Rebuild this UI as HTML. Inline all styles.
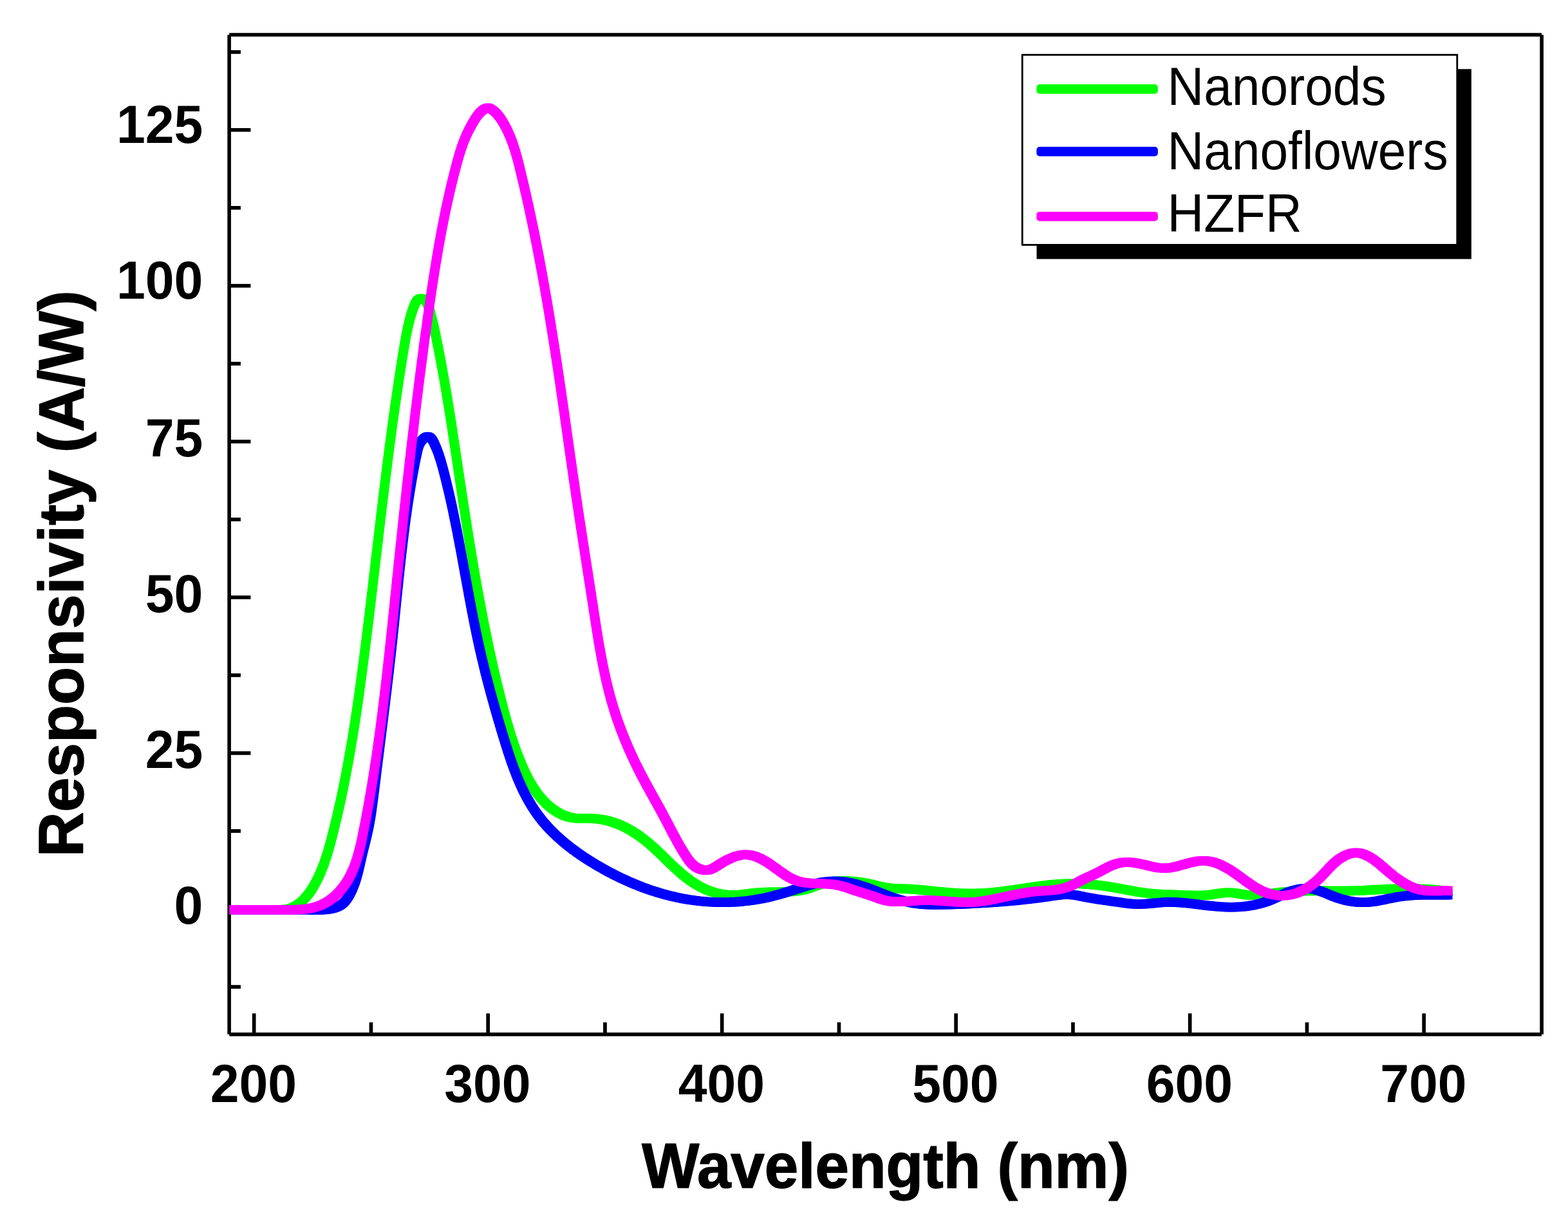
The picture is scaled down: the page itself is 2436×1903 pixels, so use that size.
<!DOCTYPE html>
<html lang="en"><head><meta charset="utf-8"><title>Responsivity vs Wavelength</title>
<style>html,body{margin:0;padding:0;background:#fff}body{width:2436px;height:1903px;overflow:hidden}svg{display:block}text{font-family:"Liberation Sans",Arial,Helvetica,sans-serif;fill:#000}.b{font-weight:bold}</style></head><body>
<svg width="2436" height="1903" viewBox="0 0 2436 1903">
<rect x="0" y="0" width="2436" height="1903" fill="#fff"/>
<g fill="#000"><rect x="353.3" y="54.2" width="5.6" height="1552.5"/><rect x="2392.3" y="54.2" width="5.7" height="1552.5"/><rect x="356.2" y="51.2" width="2038.8" height="5.6"/><rect x="356.2" y="1604.0" width="2038.8" height="5.7"/><rect x="391.8" y="1574.3" width="5.7" height="31.7"/><rect x="573.6" y="1588.2" width="5.7" height="17.8"/><rect x="755.3" y="1574.3" width="5.7" height="31.7"/><rect x="937.1" y="1588.2" width="5.7" height="17.8"/><rect x="1118.8" y="1574.3" width="5.7" height="31.7"/><rect x="1300.6" y="1588.2" width="5.7" height="17.8"/><rect x="1482.3" y="1574.3" width="5.7" height="31.7"/><rect x="1664.1" y="1588.2" width="5.7" height="17.8"/><rect x="1845.8" y="1574.3" width="5.7" height="31.7"/><rect x="2027.6" y="1588.2" width="5.7" height="17.8"/><rect x="2209.3" y="1574.3" width="5.7" height="31.7"/><rect x="356" y="1530.2" width="17.9" height="5.7"/><rect x="356" y="1409.2" width="33.4" height="5.7"/><rect x="356" y="1288.1" width="17.9" height="5.7"/><rect x="356" y="1167.1" width="33.4" height="5.7"/><rect x="356" y="1046.1" width="17.9" height="5.7"/><rect x="356" y="925.1" width="33.4" height="5.7"/><rect x="356" y="804.1" width="17.9" height="5.7"/><rect x="356" y="683.1" width="33.4" height="5.7"/><rect x="356" y="562.1" width="17.9" height="5.7"/><rect x="356" y="441.1" width="33.4" height="5.7"/><rect x="356" y="320.0" width="17.9" height="5.7"/><rect x="356" y="199.0" width="33.4" height="5.7"/><rect x="356" y="78.0" width="17.9" height="5.7"/></g>
<defs><path id="cg" d="M358.7,1413.3 L361.7,1413.3 L364.7,1413.3 L367.7,1413.3 L370.7,1413.3 L373.7,1413.3 L376.7,1413.3 L379.7,1413.3 L382.7,1413.3 L385.7,1413.3 L388.7,1413.3 L391.7,1413.3 L394.7,1413.3 L397.7,1413.3 L400.7,1413.3 L403.7,1413.3 L406.7,1413.3 L409.7,1413.3 L412.7,1413.3 L415.7,1413.3 L418.7,1413.3 L421.7,1413.3 L424.7,1413.3 L427.7,1413.3 L430.7,1413.3 L433.7,1413.3 L436.7,1413.2 L439.7,1413.1 L442.6,1412.8 L445.6,1412.5 L448.5,1411.9 L451.3,1411.1 L454.1,1410.1 L456.8,1408.8 L459.4,1407.3 L462.0,1405.7 L464.5,1403.9 L466.9,1402.0 L469.2,1399.9 L471.4,1397.8 L473.5,1395.7 L475.5,1393.4 L477.4,1391.1 L479.3,1388.8 L481.1,1386.3 L482.8,1383.9 L484.4,1381.4 L486.0,1378.8 L487.6,1376.3 L489.0,1373.7 L490.5,1371.0 L491.8,1368.4 L493.2,1365.7 L494.5,1363.0 L495.7,1360.3 L497.0,1357.6 L498.2,1354.9 L499.3,1352.1 L500.4,1349.4 L501.5,1346.6 L502.6,1343.8 L503.6,1341.0 L504.6,1338.2 L505.5,1335.3 L506.5,1332.5 L507.4,1329.6 L508.3,1326.8 L509.2,1323.9 L510.0,1321.0 L510.9,1318.1 L511.7,1315.3 L512.5,1312.4 L513.3,1309.5 L514.1,1306.6 L514.8,1303.7 L515.6,1300.7 L516.3,1297.8 L517.1,1294.9 L517.8,1292.0 L518.6,1289.1 L519.3,1286.2 L520.0,1283.2 L520.7,1280.3 L521.4,1277.4 L522.1,1274.5 L522.8,1271.6 L523.5,1268.6 L524.2,1265.7 L524.9,1262.8 L525.5,1259.9 L526.2,1256.9 L526.9,1254.0 L527.5,1251.1 L528.2,1248.1 L528.8,1245.2 L529.4,1242.3 L530.1,1239.3 L530.7,1236.4 L531.3,1233.5 L531.9,1230.5 L532.6,1227.6 L533.2,1224.7 L533.8,1221.7 L534.4,1218.8 L534.9,1215.8 L535.5,1212.9 L536.1,1210.0 L536.7,1207.0 L537.3,1204.1 L537.8,1201.1 L538.4,1198.2 L538.9,1195.2 L539.5,1192.3 L540.0,1189.3 L540.6,1186.4 L541.1,1183.4 L541.7,1180.5 L542.2,1177.5 L542.7,1174.6 L543.2,1171.6 L543.8,1168.7 L544.3,1165.7 L544.8,1162.8 L545.3,1159.8 L545.8,1156.9 L546.3,1153.9 L546.8,1150.9 L547.3,1148.0 L547.8,1145.0 L548.3,1142.1 L548.7,1139.1 L549.2,1136.1 L549.7,1133.2 L550.2,1130.2 L550.6,1127.3 L551.1,1124.3 L551.5,1121.3 L552.0,1118.4 L552.5,1115.4 L552.9,1112.4 L553.3,1109.5 L553.8,1106.5 L554.2,1103.5 L554.7,1100.6 L555.1,1097.6 L555.5,1094.6 L556.0,1091.7 L556.4,1088.7 L556.8,1085.7 L557.2,1082.8 L557.7,1079.8 L558.1,1076.8 L558.5,1073.9 L558.9,1070.9 L559.3,1067.9 L559.7,1064.9 L560.1,1062.0 L560.5,1059.0 L560.9,1056.0 L561.3,1053.1 L561.7,1050.1 L562.1,1047.1 L562.5,1044.1 L562.9,1041.2 L563.3,1038.2 L563.7,1035.2 L564.1,1032.2 L564.5,1029.3 L564.9,1026.3 L565.2,1023.3 L565.6,1020.3 L566.0,1017.4 L566.4,1014.4 L566.8,1011.4 L567.1,1008.4 L567.5,1005.5 L567.9,1002.5 L568.3,999.5 L568.6,996.5 L569.0,993.6 L569.4,990.6 L569.7,987.6 L570.1,984.6 L570.5,981.7 L570.8,978.7 L571.2,975.7 L571.6,972.7 L571.9,969.7 L572.3,966.8 L572.6,963.8 L573.0,960.8 L573.4,957.8 L573.7,954.9 L574.1,951.9 L574.4,948.9 L574.8,945.9 L575.2,942.9 L575.5,940.0 L575.9,937.0 L576.2,934.0 L576.6,931.0 L576.9,928.1 L577.3,925.1 L577.6,922.1 L578.0,919.1 L578.3,916.1 L578.7,913.2 L579.0,910.2 L579.4,907.2 L579.8,904.2 L580.1,901.3 L580.5,898.3 L580.8,895.3 L581.2,892.3 L581.5,889.3 L581.9,886.4 L582.2,883.4 L582.5,880.4 L582.9,877.4 L583.2,874.5 L583.6,871.5 L583.9,868.5 L584.3,865.5 L584.6,862.5 L585.0,859.6 L585.3,856.6 L585.7,853.6 L586.0,850.6 L586.4,847.6 L586.7,844.7 L587.1,841.7 L587.4,838.7 L587.8,835.7 L588.1,832.8 L588.5,829.8 L588.8,826.8 L589.2,823.8 L589.5,820.8 L589.9,817.9 L590.2,814.9 L590.6,811.9 L591.0,808.9 L591.3,806.0 L591.7,803.0 L592.0,800.0 L592.4,797.0 L592.7,794.0 L593.1,791.1 L593.4,788.1 L593.8,785.1 L594.2,782.1 L594.5,779.2 L594.9,776.2 L595.2,773.2 L595.6,770.2 L596.0,767.2 L596.3,764.3 L596.7,761.3 L597.0,758.3 L597.4,755.3 L597.8,752.4 L598.1,749.4 L598.5,746.4 L598.9,743.4 L599.2,740.4 L599.6,737.5 L600.0,734.5 L600.4,731.5 L600.7,728.5 L601.1,725.6 L601.5,722.6 L601.9,719.6 L602.2,716.6 L602.6,713.7 L603.0,710.7 L603.4,707.7 L603.8,704.7 L604.2,701.8 L604.5,698.8 L604.9,695.8 L605.3,692.8 L605.7,689.9 L606.1,686.9 L606.5,683.9 L606.9,680.9 L607.3,678.0 L607.7,675.0 L608.1,672.0 L608.5,669.0 L608.9,666.1 L609.3,663.1 L609.7,660.1 L610.1,657.1 L610.5,654.2 L610.9,651.2 L611.3,648.2 L611.7,645.2 L612.1,642.3 L612.6,639.3 L613.0,636.3 L613.4,633.4 L613.8,630.4 L614.2,627.4 L614.7,624.4 L615.1,621.5 L615.5,618.5 L616.0,615.5 L616.4,612.5 L616.8,609.6 L617.3,606.6 L617.7,603.6 L618.2,600.7 L618.6,597.7 L619.0,594.7 L619.5,591.8 L619.9,588.8 L620.4,585.8 L620.9,582.8 L621.3,579.9 L621.8,576.9 L622.2,573.9 L622.7,571.0 L623.2,568.0 L623.6,565.0 L624.1,562.1 L624.6,559.1 L625.0,556.1 L625.5,553.2 L626.0,550.2 L626.5,547.2 L627.0,544.3 L627.5,541.3 L628.0,538.3 L628.5,535.4 L629.0,532.4 L629.5,529.4 L630.0,526.5 L630.6,523.5 L631.1,520.6 L631.7,517.7 L632.3,514.8 L632.9,511.8 L633.5,508.9 L634.2,506.0 L634.9,503.2 L635.6,500.3 L636.3,497.4 L637.1,494.6 L637.8,491.8 L638.7,488.9 L639.5,486.1 L640.5,483.3 L641.4,480.4 L642.5,477.5 L643.7,474.5 L645.0,471.5 L646.6,468.7 L648.4,466.4 L650.7,464.8 L653.4,463.9 L656.1,464.0 L658.7,465.0 L661.0,466.9 L662.8,469.4 L664.2,472.3 L665.3,475.4 L666.3,478.3 L667.2,481.2 L668.0,484.1 L668.8,486.9 L669.6,489.8 L670.4,492.7 L671.1,495.6 L671.8,498.4 L672.5,501.3 L673.2,504.2 L673.9,507.1 L674.6,510.1 L675.2,513.0 L675.9,515.9 L676.5,518.8 L677.1,521.8 L677.7,524.7 L678.3,527.6 L678.9,530.6 L679.5,533.5 L680.1,536.5 L680.7,539.4 L681.3,542.3 L681.8,545.3 L682.4,548.2 L683.0,551.2 L683.5,554.1 L684.1,557.1 L684.6,560.0 L685.2,562.9 L685.7,565.9 L686.3,568.8 L686.8,571.8 L687.4,574.7 L687.9,577.7 L688.4,580.6 L688.9,583.6 L689.5,586.5 L690.0,589.5 L690.5,592.5 L691.0,595.4 L691.5,598.4 L692.0,601.3 L692.5,604.3 L693.0,607.2 L693.5,610.2 L694.0,613.1 L694.5,616.1 L695.0,619.1 L695.5,622.0 L695.9,625.0 L696.4,627.9 L696.9,630.9 L697.4,633.9 L697.8,636.8 L698.3,639.8 L698.8,642.7 L699.3,645.7 L699.7,648.7 L700.2,651.6 L700.6,654.6 L701.1,657.6 L701.6,660.5 L702.0,663.5 L702.5,666.4 L702.9,669.4 L703.4,672.4 L703.8,675.3 L704.3,678.3 L704.7,681.3 L705.2,684.2 L705.6,687.2 L706.1,690.2 L706.5,693.1 L707.0,696.1 L707.4,699.1 L707.9,702.0 L708.3,705.0 L708.8,708.0 L709.2,710.9 L709.7,713.9 L710.1,716.9 L710.5,719.9 L711.0,722.8 L711.4,725.8 L711.9,728.8 L712.3,731.7 L712.8,734.7 L713.2,737.7 L713.7,740.6 L714.1,743.6 L714.5,746.6 L715.0,749.5 L715.4,752.5 L715.9,755.5 L716.3,758.4 L716.8,761.4 L717.2,764.4 L717.7,767.3 L718.1,770.3 L718.6,773.3 L719.0,776.3 L719.5,779.2 L719.9,782.2 L720.4,785.2 L720.9,788.1 L721.3,791.1 L721.8,794.1 L722.2,797.0 L722.7,800.0 L723.1,803.0 L723.6,805.9 L724.1,808.9 L724.5,811.9 L725.0,814.8 L725.5,817.8 L725.9,820.8 L726.4,823.7 L726.9,826.7 L727.4,829.7 L727.8,832.6 L728.3,835.6 L728.8,838.5 L729.3,841.5 L729.7,844.5 L730.2,847.4 L730.7,850.4 L731.2,853.4 L731.7,856.3 L732.2,859.3 L732.7,862.2 L733.1,865.2 L733.6,868.2 L734.1,871.1 L734.6,874.1 L735.1,877.0 L735.6,880.0 L736.1,883.0 L736.6,885.9 L737.2,888.9 L737.7,891.8 L738.2,894.8 L738.7,897.7 L739.2,900.7 L739.7,903.7 L740.3,906.6 L740.8,909.6 L741.3,912.5 L741.8,915.5 L742.4,918.4 L742.9,921.4 L743.4,924.3 L744.0,927.3 L744.5,930.2 L745.1,933.2 L745.6,936.1 L746.2,939.1 L746.7,942.0 L747.3,945.0 L747.8,947.9 L748.4,950.9 L749.0,953.8 L749.5,956.8 L750.1,959.7 L750.7,962.7 L751.3,965.6 L751.8,968.5 L752.4,971.5 L753.0,974.4 L753.6,977.4 L754.2,980.3 L754.8,983.2 L755.4,986.2 L756.0,989.1 L756.6,992.1 L757.2,995.0 L757.8,997.9 L758.4,1000.9 L759.0,1003.8 L759.7,1006.7 L760.3,1009.7 L760.9,1012.6 L761.6,1015.5 L762.2,1018.4 L762.8,1021.4 L763.5,1024.3 L764.1,1027.2 L764.8,1030.2 L765.4,1033.1 L766.1,1036.0 L766.8,1038.9 L767.4,1041.9 L768.1,1044.8 L768.8,1047.7 L769.5,1050.6 L770.2,1053.5 L770.8,1056.4 L771.5,1059.4 L772.2,1062.3 L772.9,1065.2 L773.6,1068.1 L774.4,1071.0 L775.1,1073.9 L775.8,1076.8 L776.5,1079.8 L777.2,1082.7 L778.0,1085.6 L778.7,1088.5 L779.5,1091.4 L780.2,1094.3 L780.9,1097.2 L781.7,1100.1 L782.5,1103.0 L783.2,1105.9 L784.0,1108.8 L784.8,1111.7 L785.6,1114.6 L786.4,1117.5 L787.2,1120.4 L788.0,1123.2 L788.8,1126.1 L789.7,1129.0 L790.5,1131.9 L791.4,1134.7 L792.2,1137.6 L793.1,1140.5 L794.0,1143.3 L794.9,1146.2 L795.9,1149.0 L796.8,1151.9 L797.7,1154.7 L798.7,1157.6 L799.7,1160.4 L800.7,1163.2 L801.7,1166.0 L802.7,1168.9 L803.8,1171.7 L804.9,1174.5 L806.0,1177.3 L807.1,1180.1 L808.2,1182.8 L809.4,1185.6 L810.5,1188.4 L811.7,1191.1 L812.9,1193.9 L814.2,1196.6 L815.4,1199.4 L816.7,1202.1 L818.1,1204.8 L819.4,1207.5 L820.8,1210.1 L822.2,1212.8 L823.7,1215.4 L825.2,1218.0 L826.7,1220.6 L828.3,1223.1 L829.9,1225.6 L831.6,1228.1 L833.3,1230.6 L835.0,1233.0 L836.8,1235.3 L838.7,1237.7 L840.6,1240.0 L842.6,1242.2 L844.6,1244.4 L846.7,1246.5 L848.9,1248.6 L851.1,1250.7 L853.4,1252.6 L855.7,1254.6 L858.1,1256.4 L860.6,1258.2 L863.1,1259.9 L865.7,1261.5 L868.3,1263.0 L871.0,1264.4 L873.7,1265.7 L876.4,1266.8 L879.2,1267.9 L882.1,1268.8 L884.9,1269.5 L887.8,1270.2 L890.8,1270.6 L893.7,1271.0 L896.7,1271.2 L899.7,1271.3 L902.7,1271.3 L905.7,1271.3 L908.8,1271.2 L911.8,1271.2 L914.8,1271.3 L917.8,1271.3 L920.8,1271.5 L923.8,1271.7 L926.8,1272.0 L929.8,1272.4 L932.7,1272.8 L935.7,1273.3 L938.6,1273.9 L941.5,1274.5 L944.4,1275.2 L947.3,1275.9 L950.2,1276.8 L953.0,1277.7 L955.8,1278.6 L958.6,1279.7 L961.3,1280.8 L964.1,1281.9 L966.8,1283.1 L969.5,1284.4 L972.2,1285.7 L974.8,1287.1 L977.4,1288.6 L980.0,1290.0 L982.6,1291.6 L985.1,1293.2 L987.7,1294.8 L990.2,1296.4 L992.6,1298.2 L995.1,1299.9 L997.5,1301.7 L999.9,1303.5 L1002.3,1305.4 L1004.7,1307.3 L1007.0,1309.2 L1009.3,1311.2 L1011.6,1313.2 L1013.9,1315.2 L1016.1,1317.2 L1018.4,1319.3 L1020.6,1321.3 L1022.8,1323.4 L1025.0,1325.5 L1027.2,1327.6 L1029.4,1329.7 L1031.5,1331.8 L1033.7,1334.0 L1035.9,1336.1 L1038.1,1338.2 L1040.2,1340.3 L1042.4,1342.4 L1044.6,1344.5 L1046.8,1346.5 L1049.0,1348.6 L1051.2,1350.6 L1053.4,1352.6 L1055.7,1354.6 L1057.9,1356.6 L1060.2,1358.5 L1062.5,1360.4 L1064.8,1362.3 L1067.2,1364.1 L1069.6,1365.9 L1072.0,1367.7 L1074.4,1369.4 L1076.9,1371.0 L1079.4,1372.6 L1081.9,1374.2 L1084.5,1375.7 L1087.1,1377.2 L1089.8,1378.5 L1092.4,1379.9 L1095.1,1381.1 L1097.9,1382.3 L1100.7,1383.4 L1103.5,1384.4 L1106.3,1385.4 L1109.2,1386.3 L1112.1,1387.1 L1115.0,1387.8 L1117.9,1388.4 L1120.9,1389.0 L1123.9,1389.4 L1126.9,1389.8 L1129.9,1390.1 L1132.9,1390.3 L1135.9,1390.4 L1139.0,1390.4 L1142.0,1390.4 L1145.0,1390.3 L1148.0,1390.1 L1151.0,1389.9 L1154.0,1389.5 L1157.0,1389.2 L1159.9,1388.8 L1162.9,1388.4 L1165.9,1388.0 L1168.8,1387.6 L1171.8,1387.2 L1174.7,1386.9 L1177.7,1386.7 L1180.7,1386.5 L1183.7,1386.3 L1186.6,1386.2 L1189.6,1386.1 L1192.6,1386.0 L1195.6,1385.9 L1198.7,1385.9 L1201.7,1385.9 L1204.7,1385.8 L1207.7,1385.8 L1210.7,1385.8 L1213.7,1385.7 L1216.7,1385.6 L1219.7,1385.6 L1222.7,1385.4 L1225.7,1385.3 L1228.7,1385.1 L1231.6,1384.8 L1234.6,1384.5 L1237.6,1384.2 L1240.5,1383.8 L1243.5,1383.3 L1246.4,1382.7 L1249.3,1382.1 L1252.3,1381.3 L1255.2,1380.5 L1258.0,1379.6 L1260.9,1378.6 L1263.8,1377.5 L1266.6,1376.4 L1269.5,1375.3 L1272.4,1374.2 L1275.3,1373.3 L1278.2,1372.4 L1281.1,1371.6 L1284.1,1371.0 L1287.0,1370.4 L1290.0,1369.9 L1293.0,1369.5 L1296.0,1369.1 L1299.0,1368.8 L1302.0,1368.7 L1305.0,1368.5 L1308.1,1368.5 L1311.1,1368.5 L1314.1,1368.5 L1317.1,1368.6 L1320.1,1368.8 L1323.1,1369.0 L1326.1,1369.3 L1329.1,1369.5 L1332.1,1369.9 L1335.1,1370.3 L1338.1,1370.7 L1341.0,1371.2 L1344.0,1371.7 L1346.9,1372.3 L1349.8,1372.9 L1352.8,1373.6 L1355.7,1374.3 L1358.6,1375.0 L1361.5,1375.7 L1364.5,1376.4 L1367.4,1377.1 L1370.3,1377.7 L1373.3,1378.3 L1376.2,1378.7 L1379.2,1379.1 L1382.2,1379.5 L1385.1,1379.8 L1388.1,1380.0 L1391.1,1380.2 L1394.1,1380.3 L1397.1,1380.5 L1400.1,1380.6 L1403.1,1380.7 L1406.1,1380.8 L1409.1,1380.9 L1412.2,1381.0 L1415.2,1381.2 L1418.2,1381.4 L1421.1,1381.6 L1424.1,1381.8 L1427.1,1382.1 L1430.1,1382.3 L1433.1,1382.6 L1436.1,1382.9 L1439.1,1383.2 L1442.1,1383.5 L1445.1,1383.8 L1448.1,1384.1 L1451.0,1384.4 L1454.0,1384.7 L1457.0,1385.0 L1460.0,1385.3 L1463.0,1385.6 L1466.0,1385.9 L1469.0,1386.1 L1471.9,1386.4 L1474.9,1386.7 L1477.9,1386.9 L1480.9,1387.1 L1483.9,1387.3 L1486.9,1387.5 L1489.9,1387.6 L1492.9,1387.7 L1495.9,1387.8 L1498.9,1387.9 L1501.9,1388.0 L1504.9,1388.0 L1507.9,1388.0 L1510.9,1388.0 L1513.9,1388.0 L1516.9,1387.9 L1519.9,1387.8 L1522.9,1387.7 L1525.8,1387.6 L1528.8,1387.4 L1531.8,1387.2 L1534.8,1387.0 L1537.8,1386.8 L1540.8,1386.5 L1543.8,1386.3 L1546.8,1386.0 L1549.7,1385.6 L1552.7,1385.3 L1555.7,1385.0 L1558.7,1384.6 L1561.6,1384.2 L1564.6,1383.8 L1567.6,1383.4 L1570.6,1383.0 L1573.5,1382.6 L1576.5,1382.1 L1579.5,1381.7 L1582.5,1381.2 L1585.4,1380.8 L1588.4,1380.4 L1591.4,1379.9 L1594.3,1379.5 L1597.3,1379.0 L1600.3,1378.6 L1603.3,1378.2 L1606.2,1377.7 L1609.2,1377.3 L1612.2,1376.9 L1615.2,1376.5 L1618.1,1376.1 L1621.1,1375.8 L1624.1,1375.4 L1627.1,1375.1 L1630.0,1374.7 L1633.0,1374.4 L1636.0,1374.2 L1639.0,1373.9 L1642.0,1373.7 L1645.0,1373.4 L1648.0,1373.3 L1650.9,1373.1 L1653.9,1373.0 L1656.9,1372.8 L1659.9,1372.8 L1662.9,1372.7 L1665.9,1372.7 L1668.9,1372.7 L1671.9,1372.8 L1674.9,1372.8 L1677.9,1372.9 L1680.9,1373.1 L1683.9,1373.2 L1686.9,1373.4 L1689.9,1373.6 L1692.9,1373.8 L1695.9,1374.1 L1698.9,1374.4 L1701.9,1374.7 L1704.8,1375.0 L1707.8,1375.3 L1710.8,1375.7 L1713.8,1376.1 L1716.8,1376.5 L1719.8,1376.9 L1722.7,1377.4 L1725.7,1377.9 L1728.7,1378.3 L1731.6,1378.9 L1734.6,1379.4 L1737.5,1379.9 L1740.5,1380.5 L1743.4,1381.0 L1746.4,1381.6 L1749.3,1382.2 L1752.3,1382.7 L1755.2,1383.3 L1758.2,1383.8 L1761.1,1384.3 L1764.1,1384.9 L1767.0,1385.4 L1770.0,1385.8 L1773.0,1386.3 L1775.9,1386.7 L1778.9,1387.1 L1781.8,1387.5 L1784.8,1387.8 L1787.8,1388.1 L1790.8,1388.4 L1793.8,1388.6 L1796.7,1388.8 L1799.7,1389.0 L1802.7,1389.1 L1805.7,1389.3 L1808.7,1389.4 L1811.7,1389.5 L1814.7,1389.6 L1817.7,1389.7 L1820.7,1389.8 L1823.7,1389.9 L1826.7,1390.0 L1829.7,1390.1 L1832.8,1390.2 L1835.8,1390.4 L1838.8,1390.5 L1841.8,1390.6 L1844.8,1390.7 L1847.8,1390.8 L1850.8,1390.9 L1853.8,1391.0 L1856.8,1391.0 L1859.8,1391.1 L1862.8,1391.0 L1865.8,1391.0 L1868.8,1390.9 L1871.8,1390.7 L1874.8,1390.5 L1877.8,1390.2 L1880.8,1389.9 L1883.7,1389.5 L1886.7,1389.0 L1889.7,1388.6 L1892.7,1388.1 L1895.7,1387.7 L1898.7,1387.3 L1901.7,1387.0 L1904.6,1386.8 L1907.6,1386.7 L1910.6,1386.7 L1913.6,1386.9 L1916.5,1387.2 L1919.5,1387.6 L1922.5,1388.1 L1925.4,1388.6 L1928.4,1389.1 L1931.4,1389.5 L1934.4,1389.9 L1937.3,1390.2 L1940.3,1390.4 L1943.3,1390.5 L1946.3,1390.5 L1949.3,1390.5 L1952.3,1390.3 L1955.3,1390.1 L1958.3,1389.9 L1961.3,1389.6 L1964.3,1389.3 L1967.3,1388.9 L1970.3,1388.5 L1973.3,1388.2 L1976.3,1387.8 L1979.3,1387.4 L1982.3,1387.0 L1985.3,1386.7 L1988.3,1386.4 L1991.3,1386.1 L1994.2,1385.8 L1997.2,1385.6 L2000.2,1385.3 L2003.2,1385.1 L2006.2,1384.9 L2009.2,1384.8 L2012.2,1384.6 L2015.2,1384.5 L2018.2,1384.3 L2021.2,1384.2 L2024.2,1384.1 L2027.2,1384.1 L2030.2,1384.0 L2033.2,1384.0 L2036.2,1383.9 L2039.2,1383.9 L2042.2,1383.9 L2045.2,1383.9 L2048.2,1383.9 L2051.2,1383.9 L2054.2,1383.9 L2057.2,1383.9 L2060.2,1383.9 L2063.2,1384.0 L2066.2,1384.0 L2069.2,1384.0 L2072.2,1384.0 L2075.2,1384.1 L2078.2,1384.1 L2081.2,1384.1 L2084.2,1384.1 L2087.2,1384.1 L2090.2,1384.0 L2093.2,1384.0 L2096.2,1383.9 L2099.2,1383.9 L2102.2,1383.8 L2105.2,1383.7 L2108.2,1383.6 L2111.2,1383.5 L2114.2,1383.4 L2117.1,1383.2 L2120.1,1383.1 L2123.1,1382.9 L2126.1,1382.8 L2129.1,1382.6 L2132.1,1382.4 L2135.1,1382.3 L2138.1,1382.1 L2141.1,1382.0 L2144.1,1381.8 L2147.1,1381.7 L2150.1,1381.5 L2153.1,1381.4 L2156.1,1381.3 L2159.1,1381.1 L2162.1,1381.0 L2165.1,1381.0 L2168.1,1380.9 L2171.1,1380.8 L2174.1,1380.8 L2177.1,1380.7 L2180.1,1380.7 L2183.1,1380.7 L2186.1,1380.7 L2189.1,1380.7 L2192.1,1380.7 L2195.1,1380.7 L2198.1,1380.8 L2201.1,1380.9 L2204.1,1380.9 L2207.1,1381.0 L2210.1,1381.1 L2213.1,1381.3 L2216.1,1381.4 L2219.1,1381.6 L2222.1,1381.7 L2225.1,1381.9 L2228.0,1382.1 L2231.0,1382.4 L2234.0,1382.7 L2236.9,1383.1 L2239.9,1383.6 L2242.8,1384.0 L2245.8,1384.3 L2248.8,1384.4 L2251.8,1384.3 L2254.1,1384.0"/><path id="cb" d="M358.7,1413.3 L361.7,1413.3 L364.7,1413.3 L367.7,1413.3 L370.7,1413.3 L373.7,1413.3 L376.7,1413.3 L379.7,1413.3 L382.7,1413.3 L385.7,1413.3 L388.7,1413.3 L391.7,1413.3 L394.7,1413.3 L397.7,1413.3 L400.7,1413.3 L403.7,1413.3 L406.7,1413.3 L409.7,1413.3 L412.7,1413.3 L415.7,1413.3 L418.7,1413.3 L421.7,1413.3 L424.7,1413.3 L427.7,1413.3 L430.7,1413.3 L433.7,1413.3 L436.7,1413.2 L439.7,1413.2 L442.7,1413.2 L445.7,1413.2 L448.7,1413.2 L451.7,1413.2 L454.7,1413.2 L457.7,1413.3 L460.7,1413.3 L463.7,1413.3 L466.7,1413.3 L469.7,1413.3 L472.7,1413.3 L475.7,1413.3 L478.7,1413.3 L481.7,1413.4 L484.7,1413.4 L487.7,1413.4 L490.8,1413.4 L493.8,1413.5 L496.8,1413.4 L499.8,1413.4 L502.7,1413.2 L505.7,1413.0 L508.6,1412.7 L511.5,1412.3 L514.4,1411.8 L517.3,1411.1 L520.1,1410.3 L522.8,1409.3 L525.5,1408.2 L528.2,1406.8 L530.6,1405.2 L533.0,1403.4 L535.1,1401.3 L537.1,1399.0 L538.9,1396.6 L540.7,1394.0 L542.3,1391.4 L543.8,1388.7 L545.2,1386.0 L546.5,1383.3 L547.8,1380.5 L548.9,1377.7 L550.0,1375.0 L551.1,1372.2 L552.1,1369.3 L553.0,1366.5 L553.9,1363.6 L554.7,1360.8 L555.5,1357.9 L556.3,1355.0 L557.0,1352.1 L557.8,1349.2 L558.4,1346.3 L559.1,1343.4 L559.8,1340.5 L560.4,1337.6 L561.1,1334.6 L561.8,1331.7 L562.4,1328.8 L563.1,1325.9 L563.8,1322.9 L564.5,1320.0 L565.2,1317.1 L566.0,1314.2 L566.7,1311.3 L567.4,1308.4 L568.2,1305.4 L568.9,1302.5 L569.6,1299.6 L570.3,1296.7 L571.0,1293.8 L571.6,1290.9 L572.3,1287.9 L572.9,1285.0 L573.5,1282.0 L574.0,1279.1 L574.6,1276.2 L575.1,1273.2 L575.6,1270.3 L576.1,1267.3 L576.6,1264.3 L577.0,1261.4 L577.5,1258.4 L577.9,1255.5 L578.3,1252.5 L578.7,1249.5 L579.1,1246.5 L579.5,1243.6 L579.9,1240.6 L580.3,1237.6 L580.7,1234.7 L581.0,1231.7 L581.4,1228.7 L581.8,1225.7 L582.2,1222.7 L582.5,1219.8 L582.9,1216.8 L583.3,1213.8 L583.6,1210.8 L584.0,1207.9 L584.4,1204.9 L584.7,1201.9 L585.1,1198.9 L585.5,1196.0 L585.8,1193.0 L586.2,1190.0 L586.6,1187.0 L587.0,1184.1 L587.3,1181.1 L587.7,1178.1 L588.1,1175.1 L588.5,1172.2 L588.8,1169.2 L589.2,1166.2 L589.6,1163.2 L590.0,1160.3 L590.3,1157.3 L590.7,1154.3 L591.1,1151.3 L591.4,1148.4 L591.8,1145.4 L592.2,1142.4 L592.6,1139.4 L592.9,1136.5 L593.3,1133.5 L593.7,1130.5 L594.1,1127.5 L594.4,1124.6 L594.8,1121.6 L595.2,1118.6 L595.5,1115.6 L595.9,1112.6 L596.3,1109.7 L596.7,1106.7 L597.0,1103.7 L597.4,1100.7 L597.8,1097.8 L598.1,1094.8 L598.5,1091.8 L598.9,1088.8 L599.2,1085.9 L599.6,1082.9 L599.9,1079.9 L600.3,1076.9 L600.7,1074.0 L601.0,1071.0 L601.4,1068.0 L601.7,1065.0 L602.1,1062.0 L602.5,1059.1 L602.8,1056.1 L603.2,1053.1 L603.5,1050.1 L603.9,1047.1 L604.2,1044.2 L604.6,1041.2 L604.9,1038.2 L605.2,1035.2 L605.6,1032.2 L605.9,1029.3 L606.3,1026.3 L606.6,1023.3 L606.9,1020.3 L607.3,1017.3 L607.6,1014.3 L607.9,1011.4 L608.3,1008.4 L608.6,1005.4 L608.9,1002.4 L609.2,999.4 L609.5,996.4 L609.9,993.5 L610.2,990.5 L610.5,987.5 L610.8,984.5 L611.1,981.5 L611.4,978.5 L611.7,975.5 L612.1,972.5 L612.4,969.6 L612.7,966.6 L613.0,963.6 L613.3,960.6 L613.6,957.6 L613.9,954.6 L614.2,951.6 L614.5,948.6 L614.8,945.7 L615.1,942.7 L615.4,939.7 L615.7,936.7 L616.0,933.7 L616.3,930.7 L616.6,927.7 L616.9,924.7 L617.2,921.7 L617.6,918.8 L617.9,915.8 L618.2,912.8 L618.5,909.8 L618.8,906.8 L619.1,903.8 L619.4,900.8 L619.7,897.8 L620.0,894.9 L620.4,891.9 L620.7,888.9 L621.0,885.9 L621.3,882.9 L621.6,879.9 L622.0,876.9 L622.3,874.0 L622.6,871.0 L623.0,868.0 L623.3,865.0 L623.6,862.0 L624.0,859.0 L624.3,856.1 L624.7,853.1 L625.0,850.1 L625.4,847.1 L625.7,844.1 L626.1,841.2 L626.4,838.2 L626.8,835.2 L627.2,832.2 L627.5,829.3 L627.9,826.3 L628.3,823.3 L628.7,820.3 L629.0,817.4 L629.4,814.4 L629.8,811.4 L630.2,808.5 L630.6,805.5 L631.0,802.5 L631.4,799.5 L631.9,796.6 L632.3,793.6 L632.7,790.6 L633.1,787.7 L633.6,784.7 L634.0,781.8 L634.4,778.8 L634.9,775.8 L635.3,772.9 L635.8,769.9 L636.3,767.0 L636.7,764.0 L637.2,761.1 L637.7,758.1 L638.2,755.1 L638.7,752.2 L639.2,749.2 L639.7,746.3 L640.2,743.3 L640.7,740.4 L641.3,737.5 L641.8,734.5 L642.3,731.6 L642.9,728.6 L643.4,725.7 L644.0,722.7 L644.5,719.8 L645.1,716.9 L645.7,713.9 L646.3,711.0 L646.9,708.1 L647.6,705.1 L648.2,702.2 L648.9,699.2 L649.6,696.3 L650.4,693.4 L651.5,690.6 L652.7,687.9 L654.3,685.3 L656.3,682.9 L658.7,680.8 L661.3,679.2 L664.1,678.5 L666.7,678.8 L669.1,680.2 L671.0,682.3 L672.7,684.9 L674.1,687.8 L675.5,690.6 L676.7,693.5 L678.0,696.3 L679.1,699.1 L680.2,702.0 L681.2,704.8 L682.2,707.7 L683.1,710.5 L684.0,713.3 L684.9,716.2 L685.7,719.0 L686.5,721.9 L687.3,724.7 L688.1,727.6 L688.8,730.5 L689.6,733.3 L690.3,736.2 L691.1,739.1 L691.8,741.9 L692.5,744.8 L693.2,747.7 L693.9,750.6 L694.6,753.5 L695.3,756.4 L696.0,759.3 L696.7,762.2 L697.4,765.1 L698.1,768.0 L698.7,770.9 L699.4,773.8 L700.0,776.7 L700.7,779.6 L701.3,782.5 L701.9,785.5 L702.6,788.4 L703.2,791.3 L703.8,794.3 L704.4,797.2 L705.0,800.1 L705.6,803.1 L706.2,806.0 L706.8,808.9 L707.4,811.9 L708.0,814.8 L708.6,817.8 L709.2,820.7 L709.8,823.7 L710.4,826.6 L710.9,829.6 L711.5,832.6 L712.1,835.5 L712.6,838.5 L713.2,841.4 L713.7,844.4 L714.3,847.4 L714.9,850.3 L715.4,853.3 L716.0,856.3 L716.5,859.2 L717.1,862.2 L717.6,865.2 L718.1,868.1 L718.7,871.1 L719.2,874.1 L719.8,877.0 L720.3,880.0 L720.9,883.0 L721.4,886.0 L721.9,888.9 L722.5,891.9 L723.0,894.9 L723.6,897.8 L724.1,900.8 L724.6,903.8 L725.2,906.7 L725.7,909.7 L726.3,912.7 L726.8,915.7 L727.4,918.6 L727.9,921.6 L728.5,924.6 L729.0,927.5 L729.6,930.5 L730.1,933.5 L730.7,936.4 L731.2,939.4 L731.8,942.3 L732.4,945.3 L732.9,948.3 L733.5,951.2 L734.1,954.2 L734.7,957.1 L735.2,960.1 L735.8,963.0 L736.4,966.0 L737.0,968.9 L737.6,971.9 L738.2,974.8 L738.8,977.7 L739.4,980.7 L740.0,983.6 L740.6,986.5 L741.2,989.5 L741.9,992.4 L742.5,995.3 L743.1,998.2 L743.8,1001.2 L744.4,1004.1 L745.1,1007.0 L745.7,1009.9 L746.4,1012.8 L747.1,1015.7 L747.7,1018.6 L748.4,1021.5 L749.1,1024.4 L749.8,1027.3 L750.5,1030.2 L751.2,1033.1 L751.9,1036.0 L752.6,1038.9 L753.3,1041.8 L754.0,1044.7 L754.8,1047.6 L755.5,1050.4 L756.2,1053.3 L757.0,1056.2 L757.7,1059.1 L758.5,1062.0 L759.2,1064.8 L760.0,1067.7 L760.8,1070.6 L761.5,1073.5 L762.3,1076.3 L763.1,1079.2 L763.9,1082.1 L764.7,1085.0 L765.5,1087.8 L766.3,1090.7 L767.1,1093.6 L767.9,1096.5 L768.7,1099.3 L769.5,1102.2 L770.3,1105.1 L771.2,1108.0 L772.0,1110.8 L772.8,1113.7 L773.7,1116.6 L774.5,1119.5 L775.4,1122.3 L776.2,1125.2 L777.1,1128.1 L777.9,1131.0 L778.8,1133.9 L779.7,1136.8 L780.5,1139.7 L781.4,1142.5 L782.3,1145.4 L783.2,1148.3 L784.1,1151.2 L785.0,1154.1 L785.9,1157.0 L786.8,1159.9 L787.7,1162.8 L788.6,1165.7 L789.6,1168.6 L790.5,1171.4 L791.5,1174.3 L792.5,1177.2 L793.4,1180.1 L794.4,1182.9 L795.4,1185.8 L796.5,1188.6 L797.5,1191.5 L798.5,1194.3 L799.6,1197.1 L800.7,1200.0 L801.8,1202.8 L802.9,1205.6 L804.1,1208.3 L805.2,1211.1 L806.4,1213.9 L807.6,1216.6 L808.8,1219.4 L810.1,1222.1 L811.3,1224.8 L812.6,1227.5 L813.9,1230.2 L815.3,1232.8 L816.7,1235.5 L818.0,1238.1 L819.5,1240.7 L820.9,1243.3 L822.4,1245.9 L823.9,1248.4 L825.4,1251.0 L827.0,1253.5 L828.6,1255.9 L830.2,1258.4 L831.9,1260.9 L833.6,1263.3 L835.3,1265.7 L837.1,1268.0 L838.9,1270.4 L840.7,1272.7 L842.6,1275.0 L844.4,1277.3 L846.4,1279.5 L848.3,1281.8 L850.3,1284.0 L852.3,1286.2 L854.4,1288.3 L856.5,1290.5 L858.6,1292.6 L860.7,1294.7 L862.8,1296.7 L865.0,1298.8 L867.2,1300.8 L869.5,1302.8 L871.7,1304.8 L874.0,1306.8 L876.3,1308.7 L878.6,1310.6 L880.9,1312.5 L883.3,1314.4 L885.7,1316.2 L888.1,1318.1 L890.5,1319.9 L893.0,1321.7 L895.4,1323.5 L897.9,1325.2 L900.4,1327.0 L902.9,1328.7 L905.4,1330.4 L907.9,1332.1 L910.5,1333.7 L913.0,1335.4 L915.6,1337.0 L918.2,1338.6 L920.8,1340.2 L923.4,1341.8 L926.0,1343.4 L928.6,1344.9 L931.2,1346.4 L933.9,1347.9 L936.5,1349.4 L939.1,1350.9 L941.8,1352.3 L944.5,1353.8 L947.1,1355.2 L949.8,1356.6 L952.5,1358.0 L955.2,1359.4 L957.9,1360.7 L960.6,1362.0 L963.3,1363.4 L966.0,1364.7 L968.7,1365.9 L971.5,1367.2 L974.2,1368.4 L977.0,1369.6 L979.7,1370.8 L982.5,1372.0 L985.2,1373.2 L988.0,1374.3 L990.8,1375.4 L993.6,1376.5 L996.4,1377.6 L999.1,1378.7 L1002.0,1379.7 L1004.8,1380.7 L1007.6,1381.7 L1010.4,1382.7 L1013.2,1383.6 L1016.1,1384.5 L1018.9,1385.4 L1021.8,1386.3 L1024.6,1387.2 L1027.5,1388.0 L1030.4,1388.8 L1033.2,1389.6 L1036.1,1390.4 L1039.0,1391.1 L1041.9,1391.8 L1044.8,1392.5 L1047.7,1393.2 L1050.6,1393.9 L1053.5,1394.5 L1056.5,1395.1 L1059.4,1395.7 L1062.3,1396.2 L1065.3,1396.7 L1068.2,1397.2 L1071.2,1397.7 L1074.1,1398.1 L1077.1,1398.6 L1080.1,1399.0 L1083.1,1399.3 L1086.0,1399.7 L1089.0,1400.0 L1092.0,1400.3 L1095.0,1400.6 L1098.0,1400.8 L1101.0,1401.0 L1104.1,1401.2 L1107.1,1401.3 L1110.1,1401.5 L1113.1,1401.6 L1116.1,1401.6 L1119.1,1401.7 L1122.1,1401.7 L1125.1,1401.7 L1128.2,1401.7 L1131.2,1401.6 L1134.2,1401.5 L1137.2,1401.4 L1140.2,1401.3 L1143.2,1401.1 L1146.2,1400.9 L1149.2,1400.7 L1152.2,1400.4 L1155.1,1400.1 L1158.1,1399.8 L1161.1,1399.5 L1164.0,1399.1 L1167.0,1398.7 L1170.0,1398.3 L1172.9,1397.8 L1175.9,1397.3 L1178.8,1396.8 L1181.7,1396.3 L1184.7,1395.7 L1187.6,1395.1 L1190.5,1394.5 L1193.4,1393.8 L1196.4,1393.2 L1199.3,1392.4 L1202.2,1391.7 L1205.1,1390.9 L1208.0,1390.2 L1210.9,1389.3 L1213.8,1388.5 L1216.7,1387.6 L1219.6,1386.7 L1222.5,1385.8 L1225.4,1384.9 L1228.2,1384.0 L1231.1,1383.1 L1234.0,1382.1 L1236.9,1381.2 L1239.8,1380.3 L1242.7,1379.4 L1245.6,1378.5 L1248.5,1377.6 L1251.3,1376.7 L1254.2,1375.9 L1257.1,1375.1 L1260.0,1374.3 L1262.9,1373.6 L1265.8,1372.9 L1268.8,1372.3 L1271.7,1371.7 L1274.6,1371.1 L1277.5,1370.6 L1280.4,1370.2 L1283.4,1369.8 L1286.3,1369.5 L1289.3,1369.3 L1292.2,1369.1 L1295.2,1369.0 L1298.2,1369.0 L1301.2,1369.1 L1304.1,1369.2 L1307.1,1369.5 L1310.1,1369.8 L1313.1,1370.2 L1316.1,1370.7 L1319.1,1371.2 L1322.1,1371.8 L1325.0,1372.5 L1327.9,1373.2 L1330.9,1374.0 L1333.8,1374.8 L1336.6,1375.7 L1339.5,1376.6 L1342.3,1377.5 L1345.2,1378.5 L1348.0,1379.5 L1350.8,1380.6 L1353.6,1381.6 L1356.4,1382.7 L1359.2,1383.8 L1361.9,1384.9 L1364.7,1386.0 L1367.5,1387.1 L1370.3,1388.2 L1373.1,1389.3 L1375.9,1390.4 L1378.7,1391.5 L1381.5,1392.5 L1384.4,1393.5 L1387.2,1394.5 L1390.1,1395.5 L1392.9,1396.4 L1395.8,1397.3 L1398.7,1398.1 L1401.6,1398.9 L1404.5,1399.7 L1407.4,1400.4 L1410.4,1401.1 L1413.3,1401.8 L1416.2,1402.4 L1419.2,1402.9 L1422.2,1403.4 L1425.1,1403.8 L1428.1,1404.2 L1431.1,1404.6 L1434.1,1404.8 L1437.0,1405.0 L1440.0,1405.2 L1443.0,1405.3 L1446.0,1405.4 L1449.0,1405.5 L1452.0,1405.5 L1455.0,1405.5 L1458.0,1405.5 L1461.0,1405.4 L1464.0,1405.4 L1467.0,1405.3 L1470.0,1405.2 L1473.0,1405.2 L1476.0,1405.1 L1479.0,1405.0 L1482.0,1404.9 L1485.0,1404.8 L1488.0,1404.7 L1491.1,1404.6 L1494.1,1404.5 L1497.1,1404.4 L1500.1,1404.2 L1503.1,1404.1 L1506.1,1404.0 L1509.1,1403.8 L1512.0,1403.7 L1515.0,1403.5 L1518.0,1403.3 L1521.0,1403.2 L1524.0,1403.0 L1527.0,1402.8 L1530.0,1402.6 L1533.0,1402.4 L1536.0,1402.3 L1539.0,1402.1 L1542.0,1401.8 L1545.0,1401.6 L1548.0,1401.4 L1550.9,1401.2 L1553.9,1401.0 L1556.9,1400.7 L1559.9,1400.5 L1562.9,1400.2 L1565.9,1400.0 L1568.9,1399.7 L1571.8,1399.4 L1574.8,1399.2 L1577.8,1398.9 L1580.8,1398.6 L1583.8,1398.3 L1586.7,1398.0 L1589.7,1397.7 L1592.7,1397.3 L1595.7,1397.0 L1598.7,1396.7 L1601.6,1396.3 L1604.6,1396.0 L1607.6,1395.6 L1610.6,1395.2 L1613.6,1394.8 L1616.6,1394.4 L1619.5,1394.0 L1622.5,1393.6 L1625.5,1393.2 L1628.5,1392.7 L1631.5,1392.3 L1634.5,1391.8 L1637.5,1391.4 L1640.5,1391.0 L1643.4,1390.6 L1646.4,1390.3 L1649.4,1390.0 L1652.4,1389.8 L1655.4,1389.7 L1658.4,1389.6 L1661.4,1389.7 L1664.3,1389.9 L1667.3,1390.2 L1670.3,1390.6 L1673.2,1391.1 L1676.2,1391.6 L1679.2,1392.2 L1682.1,1392.8 L1685.1,1393.4 L1688.1,1393.9 L1691.0,1394.5 L1694.0,1395.0 L1696.9,1395.5 L1699.9,1396.0 L1702.8,1396.5 L1705.8,1396.9 L1708.8,1397.4 L1711.7,1397.8 L1714.7,1398.3 L1717.6,1398.7 L1720.6,1399.1 L1723.6,1399.6 L1726.5,1400.0 L1729.5,1400.4 L1732.5,1400.8 L1735.4,1401.2 L1738.4,1401.6 L1741.4,1402.1 L1744.4,1402.5 L1747.4,1402.9 L1750.3,1403.3 L1753.3,1403.6 L1756.3,1403.9 L1759.3,1404.2 L1762.3,1404.4 L1765.3,1404.5 L1768.3,1404.6 L1771.3,1404.5 L1774.3,1404.5 L1777.3,1404.3 L1780.3,1404.1 L1783.2,1403.9 L1786.2,1403.6 L1789.2,1403.4 L1792.2,1403.1 L1795.2,1402.8 L1798.2,1402.5 L1801.2,1402.2 L1804.2,1402.0 L1807.2,1401.8 L1810.2,1401.6 L1813.2,1401.5 L1816.2,1401.4 L1819.2,1401.4 L1822.1,1401.5 L1825.1,1401.6 L1828.1,1401.7 L1831.1,1401.9 L1834.1,1402.1 L1837.1,1402.3 L1840.1,1402.6 L1843.1,1402.8 L1846.1,1403.2 L1849.0,1403.5 L1852.0,1403.8 L1855.0,1404.2 L1858.0,1404.6 L1861.0,1404.9 L1864.0,1405.3 L1867.0,1405.7 L1870.0,1406.1 L1873.0,1406.4 L1876.0,1406.8 L1879.0,1407.1 L1882.0,1407.4 L1885.0,1407.7 L1888.0,1408.0 L1891.0,1408.3 L1894.0,1408.5 L1897.0,1408.7 L1900.0,1408.9 L1903.0,1409.0 L1906.0,1409.1 L1909.0,1409.2 L1912.0,1409.2 L1915.0,1409.2 L1918.0,1409.1 L1921.0,1409.0 L1924.0,1408.9 L1926.9,1408.7 L1929.9,1408.5 L1932.9,1408.2 L1935.9,1407.9 L1938.8,1407.5 L1941.8,1407.1 L1944.7,1406.6 L1947.7,1406.0 L1950.6,1405.4 L1953.5,1404.7 L1956.4,1404.0 L1959.3,1403.2 L1962.2,1402.3 L1965.1,1401.4 L1968.0,1400.4 L1970.9,1399.4 L1973.7,1398.3 L1976.5,1397.1 L1979.2,1395.9 L1981.9,1394.7 L1984.6,1393.5 L1987.2,1392.2 L1989.9,1390.9 L1992.5,1389.7 L1995.2,1388.5 L1997.9,1387.3 L2000.7,1386.2 L2003.6,1385.2 L2006.5,1384.2 L2009.4,1383.3 L2012.4,1382.6 L2015.4,1381.9 L2018.4,1381.3 L2021.4,1380.8 L2024.5,1380.5 L2027.5,1380.3 L2030.5,1380.3 L2033.5,1380.4 L2036.4,1380.7 L2039.4,1381.1 L2042.2,1381.7 L2045.1,1382.4 L2047.9,1383.3 L2050.7,1384.2 L2053.5,1385.2 L2056.3,1386.3 L2059.1,1387.4 L2061.9,1388.5 L2064.6,1389.7 L2067.4,1390.8 L2070.2,1392.0 L2073.1,1393.0 L2075.9,1394.1 L2078.8,1395.1 L2081.6,1396.0 L2084.5,1396.9 L2087.4,1397.7 L2090.4,1398.5 L2093.3,1399.1 L2096.2,1399.8 L2099.2,1400.3 L2102.2,1400.8 L2105.1,1401.1 L2108.1,1401.4 L2111.1,1401.7 L2114.1,1401.8 L2117.0,1401.8 L2120.0,1401.8 L2123.0,1401.7 L2125.9,1401.4 L2128.9,1401.1 L2131.9,1400.8 L2134.9,1400.4 L2137.8,1399.9 L2140.8,1399.4 L2143.8,1398.8 L2146.7,1398.3 L2149.7,1397.7 L2152.6,1397.1 L2155.6,1396.4 L2158.6,1395.8 L2161.5,1395.2 L2164.5,1394.7 L2167.5,1394.1 L2170.4,1393.6 L2173.4,1393.1 L2176.4,1392.7 L2179.4,1392.3 L2182.3,1391.9 L2185.3,1391.6 L2188.3,1391.3 L2191.3,1391.1 L2194.3,1390.9 L2197.2,1390.7 L2200.2,1390.6 L2203.2,1390.5 L2206.2,1390.4 L2209.2,1390.3 L2212.2,1390.2 L2215.2,1390.2 L2218.2,1390.2 L2221.2,1390.2 L2224.2,1390.2 L2227.2,1390.1 L2230.2,1390.2 L2233.2,1390.2 L2236.2,1390.2 L2239.2,1390.2 L2242.2,1390.1 L2245.2,1390.1 L2248.2,1390.1 L2251.2,1390.1 L2254.1,1390.0"/><path id="cm" d="M358.7,1413.3 L361.7,1413.3 L364.8,1413.3 L367.8,1413.3 L370.8,1413.3 L373.8,1413.3 L376.8,1413.3 L379.8,1413.3 L382.8,1413.3 L385.8,1413.3 L388.7,1413.3 L391.7,1413.3 L394.7,1413.3 L397.7,1413.3 L400.7,1413.3 L403.7,1413.3 L406.6,1413.3 L409.6,1413.3 L412.6,1413.3 L415.6,1413.3 L418.6,1413.3 L421.6,1413.3 L424.6,1413.3 L427.6,1413.3 L430.7,1413.3 L433.7,1413.3 L436.7,1413.3 L439.8,1413.3 L442.8,1413.3 L445.9,1413.3 L449.0,1413.3 L452.0,1413.3 L455.1,1413.3 L458.1,1413.2 L461.2,1413.1 L464.2,1413.0 L467.3,1412.8 L470.3,1412.5 L473.3,1412.2 L476.3,1411.9 L479.2,1411.4 L482.1,1410.9 L485.0,1410.3 L487.9,1409.6 L490.7,1408.9 L493.5,1408.0 L496.3,1407.0 L499.0,1405.9 L501.7,1404.7 L504.3,1403.3 L506.9,1401.9 L509.4,1400.3 L511.9,1398.7 L514.3,1396.9 L516.6,1395.1 L519.0,1393.2 L521.2,1391.2 L523.4,1389.1 L525.5,1386.9 L527.6,1384.7 L529.5,1382.4 L531.5,1380.1 L533.3,1377.7 L535.1,1375.3 L536.8,1372.9 L538.4,1370.4 L540.0,1367.8 L541.5,1365.3 L542.9,1362.7 L544.3,1360.0 L545.6,1357.4 L546.8,1354.7 L548.0,1352.0 L549.2,1349.2 L550.3,1346.5 L551.3,1343.7 L552.3,1340.9 L553.3,1338.0 L554.2,1335.2 L555.1,1332.3 L555.9,1329.4 L556.7,1326.5 L557.5,1323.6 L558.3,1320.7 L559.0,1317.8 L559.7,1314.8 L560.4,1311.9 L561.0,1308.9 L561.7,1305.9 L562.3,1303.0 L562.9,1300.0 L563.5,1297.0 L564.1,1294.1 L564.7,1291.1 L565.3,1288.1 L565.9,1285.1 L566.5,1282.2 L567.1,1279.2 L567.6,1276.2 L568.2,1273.3 L568.8,1270.3 L569.3,1267.4 L569.9,1264.4 L570.4,1261.5 L571.0,1258.5 L571.5,1255.5 L572.0,1252.6 L572.6,1249.6 L573.1,1246.7 L573.6,1243.7 L574.1,1240.8 L574.7,1237.8 L575.2,1234.9 L575.7,1231.9 L576.2,1229.0 L576.7,1226.0 L577.2,1223.1 L577.7,1220.1 L578.1,1217.2 L578.6,1214.2 L579.1,1211.3 L579.6,1208.3 L580.0,1205.4 L580.5,1202.4 L581.0,1199.5 L581.4,1196.5 L581.9,1193.6 L582.3,1190.6 L582.8,1187.7 L583.2,1184.7 L583.7,1181.8 L584.1,1178.8 L584.6,1175.9 L585.0,1172.9 L585.4,1170.0 L585.9,1167.0 L586.3,1164.1 L586.7,1161.1 L587.1,1158.1 L587.5,1155.2 L588.0,1152.2 L588.4,1149.3 L588.8,1146.3 L589.2,1143.3 L589.6,1140.4 L590.0,1137.4 L590.4,1134.4 L590.8,1131.5 L591.2,1128.5 L591.6,1125.5 L592.0,1122.6 L592.3,1119.6 L592.7,1116.6 L593.1,1113.7 L593.5,1110.7 L593.9,1107.7 L594.2,1104.7 L594.6,1101.8 L595.0,1098.8 L595.4,1095.8 L595.7,1092.9 L596.1,1089.9 L596.4,1086.9 L596.8,1083.9 L597.2,1080.9 L597.5,1078.0 L597.9,1075.0 L598.2,1072.0 L598.6,1069.0 L598.9,1066.1 L599.3,1063.1 L599.6,1060.1 L600.0,1057.1 L600.3,1054.1 L600.7,1051.2 L601.0,1048.2 L601.3,1045.2 L601.7,1042.2 L602.0,1039.2 L602.3,1036.2 L602.7,1033.3 L603.0,1030.3 L603.3,1027.3 L603.7,1024.3 L604.0,1021.3 L604.3,1018.3 L604.6,1015.4 L605.0,1012.4 L605.3,1009.4 L605.6,1006.4 L605.9,1003.4 L606.2,1000.4 L606.6,997.4 L606.9,994.5 L607.2,991.5 L607.5,988.5 L607.8,985.5 L608.1,982.5 L608.5,979.5 L608.8,976.5 L609.1,973.5 L609.4,970.6 L609.7,967.6 L610.0,964.6 L610.3,961.6 L610.6,958.6 L611.0,955.6 L611.3,952.6 L611.6,949.6 L611.9,946.6 L612.2,943.7 L612.5,940.7 L612.8,937.7 L613.1,934.7 L613.4,931.7 L613.7,928.7 L614.0,925.7 L614.4,922.7 L614.7,919.7 L615.0,916.8 L615.3,913.8 L615.6,910.8 L615.9,907.8 L616.2,904.8 L616.5,901.8 L616.8,898.8 L617.1,895.8 L617.4,892.9 L617.8,889.9 L618.1,886.9 L618.4,883.9 L618.7,880.9 L619.0,877.9 L619.3,874.9 L619.6,872.0 L619.9,869.0 L620.3,866.0 L620.6,863.0 L620.9,860.0 L621.2,857.0 L621.5,854.0 L621.8,851.0 L622.1,848.1 L622.4,845.1 L622.8,842.1 L623.1,839.1 L623.4,836.1 L623.7,833.1 L624.0,830.2 L624.3,827.2 L624.7,824.2 L625.0,821.2 L625.3,818.2 L625.6,815.2 L625.9,812.2 L626.3,809.3 L626.6,806.3 L626.9,803.3 L627.2,800.3 L627.5,797.3 L627.9,794.3 L628.2,791.4 L628.5,788.4 L628.8,785.4 L629.2,782.4 L629.5,779.4 L629.8,776.5 L630.1,773.5 L630.5,770.5 L630.8,767.5 L631.1,764.5 L631.4,761.5 L631.8,758.6 L632.1,755.6 L632.4,752.6 L632.8,749.6 L633.1,746.6 L633.4,743.7 L633.8,740.7 L634.1,737.7 L634.4,734.7 L634.8,731.7 L635.1,728.7 L635.4,725.8 L635.8,722.8 L636.1,719.8 L636.4,716.8 L636.8,713.8 L637.1,710.9 L637.5,707.9 L637.8,704.9 L638.1,701.9 L638.5,699.0 L638.8,696.0 L639.2,693.0 L639.5,690.0 L639.9,687.0 L640.2,684.1 L640.6,681.1 L640.9,678.1 L641.3,675.1 L641.6,672.1 L642.0,669.2 L642.3,666.2 L642.7,663.2 L643.0,660.2 L643.4,657.3 L643.7,654.3 L644.1,651.3 L644.4,648.3 L644.8,645.4 L645.1,642.4 L645.5,639.4 L645.9,636.4 L646.2,633.4 L646.6,630.5 L647.0,627.5 L647.3,624.5 L647.7,621.5 L648.0,618.6 L648.4,615.6 L648.8,612.6 L649.2,609.6 L649.5,606.7 L649.9,603.7 L650.3,600.7 L650.6,597.7 L651.0,594.8 L651.4,591.8 L651.8,588.8 L652.1,585.8 L652.5,582.9 L652.9,579.9 L653.3,576.9 L653.7,574.0 L654.1,571.0 L654.4,568.0 L654.8,565.0 L655.2,562.1 L655.6,559.1 L656.0,556.1 L656.4,553.1 L656.8,550.2 L657.2,547.2 L657.6,544.2 L657.9,541.3 L658.3,538.3 L658.7,535.3 L659.1,532.3 L659.5,529.4 L659.9,526.4 L660.3,523.4 L660.7,520.5 L661.2,517.5 L661.6,514.5 L662.0,511.5 L662.4,508.6 L662.8,505.6 L663.2,502.6 L663.6,499.7 L664.0,496.7 L664.4,493.7 L664.9,490.8 L665.3,487.8 L665.7,484.8 L666.1,481.8 L666.5,478.9 L667.0,475.9 L667.4,472.9 L667.8,470.0 L668.2,467.0 L668.7,464.0 L669.1,461.1 L669.5,458.1 L670.0,455.1 L670.4,452.2 L670.9,449.2 L671.3,446.2 L671.8,443.3 L672.2,440.3 L672.7,437.3 L673.1,434.4 L673.6,431.4 L674.1,428.5 L674.5,425.5 L675.0,422.5 L675.5,419.6 L675.9,416.6 L676.4,413.6 L676.9,410.7 L677.4,407.7 L677.9,404.8 L678.4,401.8 L678.9,398.8 L679.4,395.9 L679.9,392.9 L680.4,390.0 L680.9,387.0 L681.4,384.1 L681.9,381.1 L682.4,378.2 L683.0,375.2 L683.5,372.3 L684.1,369.3 L684.6,366.4 L685.1,363.4 L685.7,360.5 L686.3,357.5 L686.8,354.6 L687.4,351.6 L688.0,348.7 L688.5,345.7 L689.1,342.8 L689.7,339.8 L690.3,336.9 L690.9,334.0 L691.5,331.0 L692.1,328.1 L692.7,325.1 L693.4,322.2 L694.0,319.3 L694.6,316.3 L695.3,313.4 L695.9,310.5 L696.6,307.5 L697.2,304.6 L697.9,301.7 L698.5,298.8 L699.2,295.8 L699.9,292.9 L700.6,290.0 L701.3,287.0 L702.0,284.1 L702.7,281.2 L703.4,278.3 L704.2,275.4 L704.9,272.4 L705.6,269.5 L706.4,266.6 L707.1,263.7 L707.9,260.8 L708.7,257.9 L709.4,255.0 L710.2,252.1 L711.0,249.2 L711.8,246.3 L712.7,243.4 L713.5,240.5 L714.4,237.6 L715.3,234.8 L716.2,231.9 L717.1,229.1 L718.1,226.2 L719.1,223.4 L720.1,220.7 L721.2,217.9 L722.3,215.2 L723.5,212.4 L724.7,209.7 L725.9,207.1 L727.2,204.4 L728.5,201.8 L729.9,199.1 L731.3,196.5 L732.8,193.9 L734.3,191.3 L735.8,188.7 L737.4,186.0 L739.1,183.4 L740.8,180.9 L742.6,178.4 L744.6,176.1 L746.7,173.9 L748.9,171.9 L751.4,170.2 L754.0,168.7 L756.8,167.7 L759.6,167.8 L762.3,168.9 L764.8,170.5 L767.2,172.3 L769.4,174.3 L771.5,176.4 L773.5,178.6 L775.4,181.0 L777.2,183.4 L778.9,185.9 L780.5,188.5 L782.1,191.1 L783.6,193.7 L785.0,196.4 L786.4,199.0 L787.8,201.7 L789.1,204.4 L790.3,207.2 L791.5,209.9 L792.6,212.7 L793.8,215.4 L794.8,218.2 L795.9,221.0 L796.9,223.8 L797.8,226.6 L798.8,229.5 L799.7,232.3 L800.5,235.2 L801.4,238.0 L802.2,240.9 L803.0,243.8 L803.8,246.7 L804.6,249.6 L805.3,252.5 L806.1,255.4 L806.8,258.3 L807.5,261.2 L808.2,264.1 L808.9,267.0 L809.6,269.9 L810.3,272.8 L811.0,275.8 L811.7,278.7 L812.4,281.6 L813.1,284.5 L813.8,287.4 L814.5,290.3 L815.1,293.3 L815.8,296.2 L816.5,299.1 L817.2,302.0 L817.8,305.0 L818.5,307.9 L819.1,310.8 L819.8,313.7 L820.4,316.7 L821.1,319.6 L821.7,322.5 L822.3,325.4 L823.0,328.4 L823.6,331.3 L824.2,334.2 L824.9,337.2 L825.5,340.1 L826.1,343.0 L826.7,346.0 L827.3,348.9 L827.9,351.8 L828.6,354.8 L829.2,357.7 L829.8,360.6 L830.4,363.6 L830.9,366.5 L831.5,369.5 L832.1,372.4 L832.7,375.3 L833.3,378.3 L833.9,381.2 L834.5,384.2 L835.0,387.1 L835.6,390.0 L836.2,393.0 L836.7,395.9 L837.3,398.9 L837.9,401.8 L838.4,404.8 L839.0,407.7 L839.5,410.7 L840.1,413.6 L840.6,416.6 L841.2,419.5 L841.7,422.5 L842.3,425.4 L842.8,428.4 L843.3,431.3 L843.9,434.3 L844.4,437.2 L844.9,440.2 L845.5,443.1 L846.0,446.1 L846.5,449.0 L847.0,452.0 L847.5,455.0 L848.1,457.9 L848.6,460.9 L849.1,463.8 L849.6,466.8 L850.1,469.7 L850.6,472.7 L851.1,475.7 L851.6,478.6 L852.1,481.6 L852.6,484.5 L853.1,487.5 L853.6,490.5 L854.1,493.4 L854.6,496.4 L855.0,499.3 L855.5,502.3 L856.0,505.3 L856.5,508.2 L857.0,511.2 L857.4,514.1 L857.9,517.1 L858.4,520.1 L858.9,523.0 L859.3,526.0 L859.8,529.0 L860.3,531.9 L860.7,534.9 L861.2,537.9 L861.7,540.8 L862.1,543.8 L862.6,546.8 L863.0,549.7 L863.5,552.7 L864.0,555.7 L864.4,558.6 L864.9,561.6 L865.3,564.6 L865.8,567.5 L866.2,570.5 L866.7,573.5 L867.1,576.4 L867.5,579.4 L868.0,582.4 L868.4,585.3 L868.9,588.3 L869.3,591.3 L869.8,594.3 L870.2,597.2 L870.6,600.2 L871.1,603.2 L871.5,606.1 L871.9,609.1 L872.4,612.1 L872.8,615.0 L873.2,618.0 L873.6,621.0 L874.1,624.0 L874.5,626.9 L874.9,629.9 L875.4,632.9 L875.8,635.8 L876.2,638.8 L876.6,641.8 L877.1,644.7 L877.5,647.7 L877.9,650.7 L878.3,653.7 L878.7,656.6 L879.2,659.6 L879.6,662.6 L880.0,665.5 L880.4,668.5 L880.8,671.5 L881.3,674.5 L881.7,677.4 L882.1,680.4 L882.5,683.4 L882.9,686.3 L883.4,689.3 L883.8,692.3 L884.2,695.2 L884.6,698.2 L885.1,701.2 L885.5,704.2 L885.9,707.1 L886.3,710.1 L886.7,713.1 L887.2,716.0 L887.6,719.0 L888.0,722.0 L888.4,724.9 L888.9,727.9 L889.3,730.9 L889.7,733.8 L890.1,736.8 L890.6,739.8 L891.0,742.7 L891.4,745.7 L891.9,748.7 L892.3,751.6 L892.7,754.6 L893.2,757.6 L893.6,760.5 L894.0,763.5 L894.5,766.5 L894.9,769.4 L895.3,772.4 L895.8,775.4 L896.2,778.3 L896.7,781.3 L897.1,784.3 L897.6,787.2 L898.0,790.2 L898.4,793.2 L898.9,796.1 L899.3,799.1 L899.8,802.0 L900.2,805.0 L900.7,808.0 L901.1,810.9 L901.6,813.9 L902.0,816.9 L902.5,819.8 L903.0,822.8 L903.4,825.8 L903.9,828.7 L904.3,831.7 L904.8,834.6 L905.2,837.6 L905.7,840.6 L906.1,843.5 L906.6,846.5 L907.1,849.5 L907.5,852.4 L908.0,855.4 L908.4,858.3 L908.9,861.3 L909.4,864.3 L909.8,867.2 L910.3,870.2 L910.7,873.2 L911.2,876.1 L911.7,879.1 L912.1,882.0 L912.6,885.0 L913.0,888.0 L913.5,890.9 L914.0,893.9 L914.4,896.9 L914.9,899.8 L915.3,902.8 L915.8,905.8 L916.3,908.7 L916.7,911.7 L917.2,914.7 L917.6,917.6 L918.1,920.6 L918.6,923.6 L919.0,926.5 L919.5,929.5 L919.9,932.5 L920.4,935.5 L920.9,938.4 L921.3,941.4 L921.8,944.4 L922.2,947.3 L922.7,950.3 L923.1,953.3 L923.6,956.3 L924.0,959.2 L924.5,962.2 L925.0,965.2 L925.4,968.1 L925.9,971.1 L926.4,974.1 L926.8,977.1 L927.3,980.0 L927.8,983.0 L928.3,986.0 L928.7,988.9 L929.2,991.9 L929.7,994.9 L930.2,997.8 L930.7,1000.8 L931.2,1003.7 L931.7,1006.7 L932.3,1009.7 L932.8,1012.6 L933.3,1015.6 L933.9,1018.5 L934.4,1021.5 L935.0,1024.4 L935.5,1027.4 L936.1,1030.3 L936.7,1033.3 L937.3,1036.2 L937.9,1039.1 L938.5,1042.1 L939.1,1045.0 L939.8,1047.9 L940.4,1050.8 L941.0,1053.8 L941.7,1056.7 L942.4,1059.6 L943.1,1062.5 L943.8,1065.4 L944.5,1068.3 L945.2,1071.2 L945.9,1074.1 L946.7,1077.0 L947.5,1079.9 L948.2,1082.8 L949.0,1085.7 L949.8,1088.6 L950.7,1091.4 L951.5,1094.3 L952.4,1097.2 L953.2,1100.0 L954.1,1102.9 L955.0,1105.7 L955.9,1108.6 L956.9,1111.4 L957.8,1114.3 L958.8,1117.1 L959.8,1119.9 L960.8,1122.7 L961.8,1125.6 L962.8,1128.4 L963.8,1131.2 L964.9,1134.0 L966.0,1136.8 L967.1,1139.6 L968.2,1142.4 L969.3,1145.1 L970.4,1147.9 L971.5,1150.7 L972.7,1153.5 L973.9,1156.2 L975.0,1159.0 L976.2,1161.7 L977.4,1164.5 L978.7,1167.2 L979.9,1170.0 L981.1,1172.7 L982.4,1175.4 L983.7,1178.1 L984.9,1180.9 L986.2,1183.6 L987.5,1186.3 L988.9,1189.0 L990.2,1191.7 L991.5,1194.4 L992.9,1197.1 L994.2,1199.7 L995.6,1202.4 L997.0,1205.1 L998.4,1207.7 L999.8,1210.4 L1001.2,1213.0 L1002.6,1215.7 L1004.0,1218.3 L1005.5,1221.0 L1006.9,1223.6 L1008.4,1226.2 L1009.8,1228.9 L1011.3,1231.5 L1012.7,1234.1 L1014.2,1236.7 L1015.7,1239.4 L1017.1,1242.0 L1018.6,1244.6 L1020.0,1247.2 L1021.5,1249.9 L1023.0,1252.5 L1024.4,1255.1 L1025.8,1257.7 L1027.3,1260.4 L1028.7,1263.0 L1030.1,1265.6 L1031.5,1268.3 L1032.9,1270.9 L1034.3,1273.6 L1035.7,1276.2 L1037.1,1278.9 L1038.5,1281.5 L1039.9,1284.2 L1041.3,1286.9 L1042.6,1289.5 L1044.0,1292.2 L1045.4,1294.8 L1046.8,1297.4 L1048.3,1300.1 L1049.7,1302.7 L1051.1,1305.3 L1052.6,1308.0 L1054.0,1310.6 L1055.5,1313.2 L1057.0,1315.8 L1058.6,1318.4 L1060.1,1321.0 L1061.7,1323.5 L1063.3,1326.1 L1064.9,1328.7 L1066.5,1331.2 L1068.2,1333.7 L1070.0,1336.2 L1071.8,1338.5 L1073.8,1340.8 L1075.9,1342.9 L1078.2,1344.9 L1080.7,1346.7 L1083.5,1348.3 L1086.3,1349.6 L1089.2,1350.6 L1092.2,1351.4 L1095.2,1351.8 L1098.1,1351.8 L1100.9,1351.4 L1103.7,1350.6 L1106.3,1349.6 L1108.9,1348.3 L1111.5,1346.8 L1114.0,1345.2 L1116.6,1343.5 L1119.2,1341.9 L1121.9,1340.2 L1124.6,1338.7 L1127.4,1337.1 L1130.2,1335.7 L1133.0,1334.3 L1135.9,1333.0 L1138.7,1331.8 L1141.6,1330.8 L1144.5,1329.8 L1147.4,1329.1 L1150.4,1328.5 L1153.3,1328.0 L1156.2,1327.8 L1159.0,1327.7 L1161.9,1327.9 L1164.8,1328.2 L1167.6,1328.8 L1170.4,1329.5 L1173.2,1330.3 L1176.0,1331.3 L1178.7,1332.5 L1181.4,1333.7 L1184.1,1335.1 L1186.8,1336.6 L1189.5,1338.2 L1192.1,1339.8 L1194.7,1341.5 L1197.3,1343.2 L1199.8,1345.0 L1202.4,1346.8 L1204.9,1348.6 L1207.4,1350.4 L1209.8,1352.2 L1212.3,1354.0 L1214.8,1355.7 L1217.2,1357.4 L1219.7,1359.1 L1222.2,1360.7 L1224.7,1362.2 L1227.3,1363.6 L1229.9,1364.9 L1232.5,1366.1 L1235.2,1367.2 L1237.9,1368.2 L1240.7,1369.1 L1243.5,1369.8 L1246.4,1370.4 L1249.3,1370.9 L1252.3,1371.3 L1255.3,1371.7 L1258.3,1371.9 L1261.3,1372.2 L1264.4,1372.3 L1267.5,1372.5 L1270.6,1372.6 L1273.7,1372.7 L1276.8,1372.8 L1279.9,1372.9 L1282.9,1373.1 L1286.0,1373.3 L1289.1,1373.5 L1292.1,1373.8 L1295.1,1374.1 L1298.1,1374.5 L1301.0,1375.0 L1304.0,1375.6 L1306.8,1376.3 L1309.7,1377.1 L1312.5,1377.9 L1315.3,1378.8 L1318.1,1379.8 L1320.9,1380.7 L1323.6,1381.7 L1326.4,1382.7 L1329.3,1383.6 L1332.1,1384.6 L1335.0,1385.5 L1337.9,1386.4 L1340.7,1387.3 L1343.6,1388.2 L1346.5,1389.2 L1349.4,1390.1 L1352.3,1391.0 L1355.1,1392.0 L1358.0,1393.0 L1360.8,1394.1 L1363.6,1395.1 L1366.5,1396.1 L1369.3,1397.1 L1372.1,1397.9 L1375.0,1398.7 L1377.9,1399.3 L1380.8,1399.8 L1383.7,1400.2 L1386.7,1400.5 L1389.6,1400.6 L1392.6,1400.7 L1395.6,1400.8 L1398.6,1400.7 L1401.7,1400.6 L1404.7,1400.5 L1407.7,1400.3 L1410.8,1400.1 L1413.8,1399.9 L1416.9,1399.6 L1419.9,1399.4 L1423.0,1399.2 L1426.0,1399.0 L1429.0,1398.8 L1432.0,1398.7 L1435.1,1398.7 L1438.1,1398.6 L1441.1,1398.6 L1444.1,1398.7 L1447.0,1398.7 L1450.0,1398.8 L1453.0,1399.0 L1456.0,1399.1 L1459.0,1399.3 L1462.0,1399.4 L1464.9,1399.6 L1467.9,1399.8 L1470.9,1400.1 L1473.9,1400.3 L1476.9,1400.5 L1479.9,1400.7 L1482.9,1400.9 L1485.9,1401.1 L1489.0,1401.3 L1492.0,1401.5 L1495.0,1401.6 L1498.0,1401.7 L1501.1,1401.8 L1504.1,1401.7 L1507.1,1401.6 L1510.1,1401.5 L1513.1,1401.3 L1516.1,1401.1 L1519.0,1400.8 L1522.0,1400.4 L1525.0,1400.0 L1527.9,1399.6 L1530.9,1399.2 L1533.8,1398.7 L1536.8,1398.2 L1539.7,1397.6 L1542.7,1397.1 L1545.6,1396.5 L1548.6,1395.9 L1551.5,1395.3 L1554.4,1394.6 L1557.4,1394.0 L1560.3,1393.4 L1563.2,1392.7 L1566.2,1392.1 L1569.1,1391.5 L1572.0,1390.8 L1575.0,1390.2 L1577.9,1389.6 L1580.8,1389.0 L1583.8,1388.5 L1586.7,1387.9 L1589.7,1387.4 L1592.7,1386.9 L1595.6,1386.4 L1598.6,1386.0 L1601.6,1385.6 L1604.5,1385.2 L1607.5,1384.9 L1610.5,1384.6 L1613.5,1384.4 L1616.5,1384.2 L1619.5,1384.0 L1622.5,1383.8 L1625.5,1383.6 L1628.5,1383.4 L1631.5,1383.2 L1634.5,1382.9 L1637.5,1382.6 L1640.5,1382.2 L1643.4,1381.8 L1646.4,1381.3 L1649.3,1380.6 L1652.2,1379.9 L1655.1,1379.1 L1658.0,1378.2 L1660.8,1377.1 L1663.6,1376.0 L1666.3,1374.8 L1669.0,1373.5 L1671.7,1372.1 L1674.4,1370.7 L1677.0,1369.2 L1679.7,1367.8 L1682.3,1366.4 L1685.0,1365.1 L1687.7,1363.8 L1690.4,1362.6 L1693.1,1361.4 L1695.8,1360.2 L1698.5,1358.9 L1701.2,1357.6 L1703.9,1356.3 L1706.6,1354.9 L1709.3,1353.5 L1712.0,1352.0 L1714.7,1350.6 L1717.4,1349.2 L1720.1,1347.8 L1722.8,1346.4 L1725.6,1345.2 L1728.3,1344.0 L1731.1,1342.9 L1733.9,1342.0 L1736.8,1341.2 L1739.7,1340.6 L1742.6,1340.1 L1745.5,1339.8 L1748.4,1339.6 L1751.4,1339.6 L1754.4,1339.6 L1757.4,1339.8 L1760.4,1340.1 L1763.4,1340.5 L1766.4,1341.0 L1769.4,1341.5 L1772.4,1342.1 L1775.4,1342.8 L1778.4,1343.4 L1781.4,1344.2 L1784.3,1344.9 L1787.3,1345.6 L1790.2,1346.2 L1793.2,1346.9 L1796.1,1347.4 L1799.1,1347.9 L1802.0,1348.3 L1804.9,1348.5 L1807.9,1348.7 L1810.8,1348.6 L1813.7,1348.4 L1816.7,1348.1 L1819.6,1347.7 L1822.6,1347.1 L1825.5,1346.5 L1828.5,1345.8 L1831.4,1345.0 L1834.4,1344.2 L1837.4,1343.4 L1840.3,1342.6 L1843.3,1341.7 L1846.2,1340.9 L1849.2,1340.2 L1852.1,1339.5 L1855.1,1338.8 L1858.0,1338.3 L1861.0,1337.8 L1863.9,1337.5 L1866.9,1337.3 L1869.8,1337.2 L1872.7,1337.3 L1875.7,1337.5 L1878.6,1337.9 L1881.5,1338.5 L1884.4,1339.2 L1887.2,1340.0 L1890.1,1341.0 L1892.9,1342.0 L1895.7,1343.2 L1898.5,1344.5 L1901.2,1345.8 L1903.9,1347.3 L1906.6,1348.8 L1909.2,1350.3 L1911.8,1351.9 L1914.3,1353.6 L1916.8,1355.3 L1919.3,1357.0 L1921.7,1358.7 L1924.2,1360.5 L1926.6,1362.2 L1929.0,1364.0 L1931.4,1365.8 L1933.9,1367.6 L1936.3,1369.3 L1938.7,1371.0 L1941.2,1372.7 L1943.6,1374.4 L1946.1,1376.0 L1948.6,1377.6 L1951.2,1379.2 L1953.8,1380.6 L1956.4,1382.0 L1959.1,1383.4 L1961.8,1384.6 L1964.6,1385.8 L1967.4,1386.9 L1970.3,1387.8 L1973.2,1388.7 L1976.2,1389.5 L1979.2,1390.1 L1982.2,1390.6 L1985.2,1391.0 L1988.2,1391.2 L1991.2,1391.3 L1994.2,1391.3 L1997.1,1391.1 L2000.1,1390.8 L2003.0,1390.3 L2006.0,1389.7 L2008.9,1389.0 L2011.8,1388.2 L2014.6,1387.2 L2017.4,1386.2 L2020.2,1385.0 L2023.0,1383.7 L2025.7,1382.3 L2028.3,1380.9 L2031.0,1379.3 L2033.5,1377.7 L2036.1,1375.9 L2038.5,1374.1 L2040.9,1372.3 L2043.3,1370.3 L2045.6,1368.3 L2047.8,1366.3 L2050.0,1364.2 L2052.1,1362.0 L2054.2,1359.9 L2056.3,1357.7 L2058.3,1355.5 L2060.4,1353.3 L2062.4,1351.1 L2064.4,1348.9 L2066.5,1346.8 L2068.6,1344.7 L2070.7,1342.6 L2072.9,1340.6 L2075.1,1338.7 L2077.4,1336.8 L2079.7,1335.0 L2082.2,1333.3 L2084.7,1331.8 L2087.3,1330.3 L2090.0,1329.0 L2092.8,1327.7 L2095.7,1326.7 L2098.7,1325.8 L2101.7,1325.2 L2104.8,1324.9 L2107.8,1324.8 L2110.8,1325.1 L2113.8,1325.6 L2116.7,1326.4 L2119.6,1327.4 L2122.4,1328.6 L2125.1,1329.9 L2127.8,1331.4 L2130.4,1332.9 L2132.9,1334.5 L2135.4,1336.2 L2137.8,1338.0 L2140.1,1339.8 L2142.4,1341.7 L2144.7,1343.6 L2147.0,1345.6 L2149.3,1347.5 L2151.5,1349.5 L2153.8,1351.5 L2156.1,1353.4 L2158.4,1355.4 L2160.8,1357.3 L2163.1,1359.2 L2165.5,1361.1 L2167.9,1363.0 L2170.4,1364.8 L2172.8,1366.5 L2175.3,1368.2 L2177.9,1369.8 L2180.4,1371.4 L2183.0,1372.9 L2185.6,1374.4 L2188.3,1375.7 L2191.0,1377.0 L2193.7,1378.2 L2196.4,1379.2 L2199.2,1380.2 L2202.1,1381.1 L2204.9,1381.8 L2207.8,1382.5 L2210.8,1383.0 L2213.7,1383.4 L2216.8,1383.7 L2219.8,1383.9 L2222.8,1384.0 L2225.9,1384.0 L2229.0,1384.0 L2232.1,1384.0 L2235.1,1383.9 L2238.2,1383.9 L2241.2,1383.8 L2244.2,1383.8 L2247.2,1383.8 L2250.2,1383.8 L2253.1,1383.9 L2254.1,1384.0"/></defs>
<g fill="none" stroke-width="10" stroke-linejoin="round" stroke-linecap="butt">
<g stroke="#00ff00">
<use href="#cg"/>
<use href="#cg" transform="translate(-2.3,-2.3)"/>
<use href="#cg" transform="translate(2.3,-2.3)"/>
<use href="#cg" transform="translate(-2.3,2.3)"/>
<use href="#cg" transform="translate(2.3,2.3)"/>
</g>
<g stroke="#0000ff">
<use href="#cb"/>
<use href="#cb" transform="translate(-2.3,-2.3)"/>
<use href="#cb" transform="translate(2.3,-2.3)"/>
<use href="#cb" transform="translate(-2.3,2.3)"/>
<use href="#cb" transform="translate(2.3,2.3)"/>
</g>
<g stroke="#ff00ff">
<use href="#cm"/>
<use href="#cm" transform="translate(-2.3,-2.3)"/>
<use href="#cm" transform="translate(2.3,-2.3)"/>
<use href="#cm" transform="translate(-2.3,2.3)"/>
<use href="#cm" transform="translate(2.3,2.3)"/>
</g>
</g>
<rect x="1610.5" y="107.3" width="675.4" height="295.1" fill="#000"/>
<rect x="1588.2" y="85.2" width="675.6" height="295.2" fill="#fff" stroke="#000" stroke-width="2.8"/>
<rect x="1610.3" y="131.1" width="188.6" height="14.6" rx="5" fill="#00ff00"/>
<rect x="1610.3" y="228.1" width="188.6" height="14.6" rx="5" fill="#0000ff"/>
<rect x="1610.3" y="328.9" width="188.6" height="14.6" rx="5" fill="#ff00ff"/>
<text transform="translate(1813.5,163.0) scale(0.94,1.0)" font-size="83.5" text-anchor="start">Nanorods</text>
<text transform="translate(1813.5,263.0) scale(0.94,1.0)" font-size="83.5" text-anchor="start">Nanoflowers</text>
<text transform="translate(1813.5,360.3) scale(0.94,1.0)" font-size="83.5" text-anchor="start">HZFR</text>
<text class="b" transform="translate(393.9,1712.0) scale(0.97,1.0)" font-size="83" text-anchor="middle">200</text>
<text class="b" transform="translate(757.4,1712.0) scale(0.97,1.0)" font-size="83" text-anchor="middle">300</text>
<text class="b" transform="translate(1120.9,1712.0) scale(0.97,1.0)" font-size="83" text-anchor="middle">400</text>
<text class="b" transform="translate(1484.4,1712.0) scale(0.97,1.0)" font-size="83" text-anchor="middle">500</text>
<text class="b" transform="translate(1847.9,1712.0) scale(0.97,1.0)" font-size="83" text-anchor="middle">600</text>
<text class="b" transform="translate(2211.4,1712.0) scale(0.97,1.0)" font-size="83" text-anchor="middle">700</text>
<text class="b" transform="translate(315.3,1434.5) scale(0.97,1.0)" font-size="83" text-anchor="end">0</text>
<text class="b" transform="translate(315.3,1193.0) scale(0.97,1.0)" font-size="83" text-anchor="end">25</text>
<text class="b" transform="translate(315.3,950.9) scale(0.97,1.0)" font-size="83" text-anchor="end">50</text>
<text class="b" transform="translate(315.3,708.9) scale(0.97,1.0)" font-size="83" text-anchor="end">75</text>
<text class="b" transform="translate(315.3,463.7) scale(0.97,1.0)" font-size="83" text-anchor="end">100</text>
<text class="b" transform="translate(315.3,222.3) scale(0.97,1.0)" font-size="83" text-anchor="end">125</text>
<text class="b" transform="translate(1375.6,1845.2) scale(0.958,1.0)" font-size="98.5" text-anchor="middle" stroke="#000" stroke-width="1.5" stroke-linejoin="round">Wavelength (nm)</text>
<text class="b" transform="translate(129.1,891.2) rotate(-90) scale(0.981,1.0)" font-size="98.5" text-anchor="middle" stroke="#000" stroke-width="1.5" stroke-linejoin="round">Responsivity (A/W)</text>
</svg></body></html>
